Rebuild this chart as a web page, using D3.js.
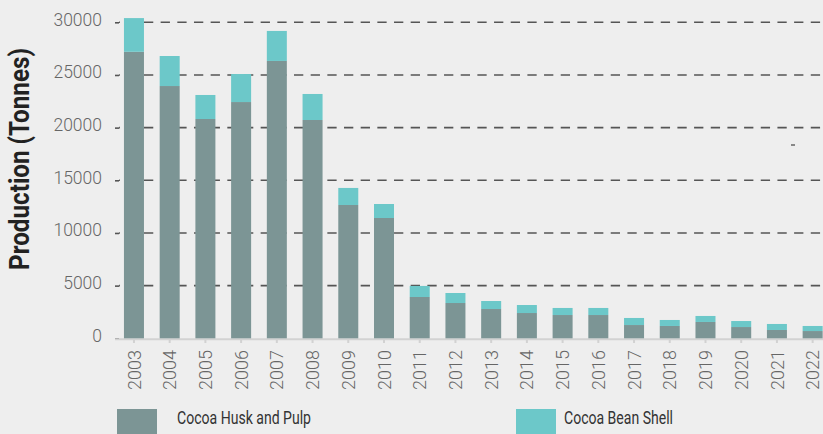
<!DOCTYPE html>
<html>
<head>
<meta charset="utf-8">
<script src="https://cdn.jsdelivr.net/npm/d3@7"></script>
<style>
  html, body { margin: 0; padding: 0; background: #eeeeee; }
  svg { display: block; font-family: Roboto, "Liberation Sans", sans-serif; }
</style>
</head>
<body>
<svg id="chart" width="823" height="434"></svg>
<script>
// values (tonnes)
const years = ["2003", "2004", "2005", "2006", "2007", "2008", "2009", "2010", "2011", "2012",
               "2013", "2014", "2015", "2016", "2017", "2018", "2019", "2020", "2021", "2022"];
const huskPulp = [27200, 23950, 20820, 22430, 26330, 20725, 12655, 11420, 3920, 3350,
                  2780, 2400, 2210, 2210, 1260, 1170, 1550, 1070, 790, 690];
const beanShell = [3200, 2850, 2280, 2660, 2850, 2470, 1620, 1330, 1050, 950,
                   760, 760, 670, 670, 670, 570, 570, 570, 570, 480];
const seriesNames = ["Cocoa Husk and Pulp", "Cocoa Bean Shell"];
const yTicks = [0, 5000, 10000, 15000, 20000, 25000, 30000];

const colors = ["#7c9595", "#6cc8c9"];

const svg = d3.select("#chart");
const width = 823;

let rows = years.map((y, i) => ({year: y, husk: huskPulp[i], shell: beanShell[i]}));
let stack = d3.stack().keys(["husk", "shell"])(rows);

let x = d3.scaleBand()
    .domain(years)
    .range([116.1, 830.5])
    .paddingInner(0.44)
    .paddingOuter(0.22);

let y = d3.scaleLinear()
    .domain([0, 30000])
    .range([338.3, 22.3]);

// dashed grid lines
svg.append("g")
    .selectAll("line")
    .data(yTicks.filter(d => d > 0))
    .join("line")
    .attr("x1", 119)
    .attr("x2", width)
    .attr("y1", d => y(d))
    .attr("y2", d => y(d))
    .attr("stroke", "#555")
    .attr("stroke-width", 1.6)
    .attr("stroke-dasharray", "9.3,7.37")
    .attr("stroke-dashoffset", 8.37);

// y axis
let yAxis = svg.append("g")
    .attr("transform", "translate(119,0)")
    .call(d3.axisLeft(y).tickValues(yTicks).tickSize(4).tickPadding(13).tickFormat(d3.format("d")));
yAxis.select(".domain").remove();
yAxis.selectAll(".tick line").attr("stroke", "#555").attr("stroke-width", 1.6);
yAxis.selectAll(".tick text")
    .attr("dy", 3)
    .attr("fill", "#666")
    .style("font-size", "17.5px")
    .style("font-weight", 300)
    .style("font-family", "Roboto");

// stray mark in the original
svg.append("line")
    .attr("x1", 791).attr("x2", 795)
    .attr("y1", 145).attr("y2", 145)
    .attr("stroke", "#666").attr("stroke-width", 1.5);

// x axis baseline and ticks
svg.append("line")
    .attr("x1", 115).attr("x2", width)
    .attr("y1", 339.2).attr("y2", 339.2)
    .attr("stroke", "#d2d2d2").attr("stroke-width", 2);

svg.append("g")
    .selectAll("line")
    .data(years)
    .join("line")
    .attr("x1", d => x(d) + x.bandwidth() / 2)
    .attr("x2", d => x(d) + x.bandwidth() / 2)
    .attr("y1", 340).attr("y2", 343)
    .attr("stroke", "#d2d2d2").attr("stroke-width", 2);

// bars
svg.append("g")
    .selectAll("g")
    .data(stack)
    .join("g")
    .attr("fill", (d, i) => colors[i])
    .selectAll("rect")
    .data(d => d)
    .join("rect")
    .attr("x", d => x(d.data.year))
    .attr("width", x.bandwidth())
    .attr("y", d => y(d[1]))
    .attr("height", d => y(d[0]) - y(d[1]));

// x labels, rotated
svg.append("g")
    .selectAll("text")
    .data(years)
    .join("text")
    .attr("transform", d => "translate(" + (x(d) + x.bandwidth() / 2 + 6.6) + ",350) rotate(-90)")
    .attr("text-anchor", "end")
    .attr("fill", "#666")
    .style("font-size", "18px")
    .style("font-weight", 300)
    .text(d => d);

// y title
svg.append("text")
    .attr("transform", "translate(29,159) rotate(-90)")
    .attr("text-anchor", "middle")
    .attr("fill", "#222")
    .attr("textLength", 222)
    .attr("lengthAdjust", "spacingAndGlyphs")
    .style("font-size", "28px")
    .style("font-weight", "bold")
    .text("Production (Tonnes)");

// legend
let legendX = [117, 516];
let legendTextW = [134, 109];
let legend = svg.append("g")
    .selectAll("g")
    .data(seriesNames)
    .join("g")
    .attr("transform", (d, i) => "translate(" + legendX[i] + ",409)");
legend.append("rect")
    .attr("width", 40)
    .attr("height", 30)
    .attr("fill", (d, i) => colors[i]);
legend.append("text")
    .attr("x", (d, i) => i === 0 ? 60 : 48)
    .attr("y", 15)
    .attr("fill", "#333")
    .attr("textLength", (d, i) => legendTextW[i])
    .attr("lengthAdjust", "spacingAndGlyphs")
    .style("font-size", "18px")
    .text(d => d);
</script>
</body>
</html>
